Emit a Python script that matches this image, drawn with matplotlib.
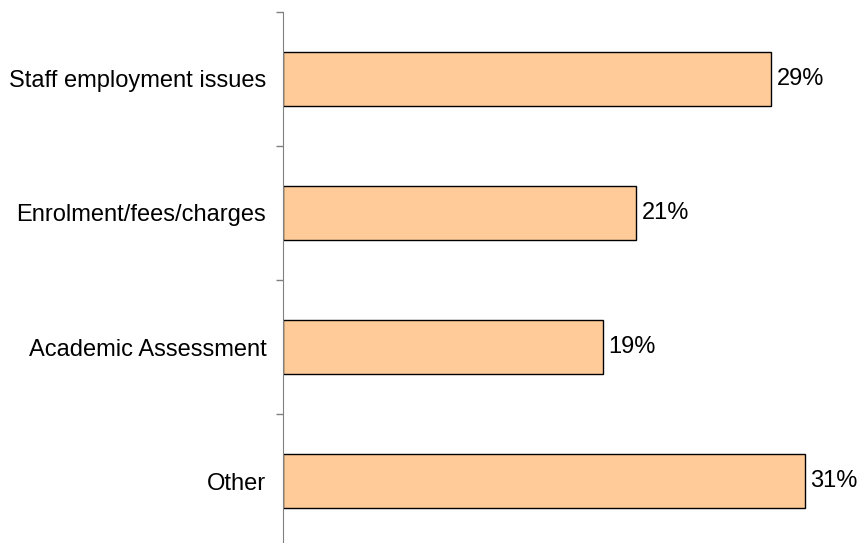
import matplotlib
matplotlib.use('Agg')
import matplotlib.pyplot as plt
from matplotlib.ticker import FixedLocator

categories = ['Staff employment issues', 'Enrolment/fees/charges', 'Academic Assessment', 'Other']
values = [29, 21, 19, 31]

plt.rcParams['font.family'] = ['Liberation Sans', 'DejaVu Sans']

fig = plt.figure(figsize=(8.61, 5.43), dpi=100)
ax = fig.add_axes([283/861, -5/543, 572/861, 536/543])

ypos = list(range(len(categories)))[::-1]
ax.barh(ypos, values, height=0.41, color='#FFCC99', edgecolor='black', linewidth=1.0)

for y, v in zip(ypos, values):
    ax.text(v + 0.35, y, f'{v}%', va='center', ha='left', fontsize=17)

ax.set_xlim(0, 34)
ax.set_ylim(-0.5, 3.5)
ax.set_yticks(ypos)
ax.set_yticklabels(categories, fontsize=17)
ax.yaxis.set_minor_locator(FixedLocator([-0.5, 0.5, 1.5, 2.5, 3.5]))
ax.tick_params(axis='y', which='major', length=0, pad=12)
ax.tick_params(axis='y', which='minor', length=5, color='#808080', width=1)

for s in ['top', 'right', 'bottom']:
    ax.spines[s].set_visible(False)
ax.spines['left'].set_color('#808080')
ax.set_xticks([])

fig.savefig('out.png', dpi=100)
